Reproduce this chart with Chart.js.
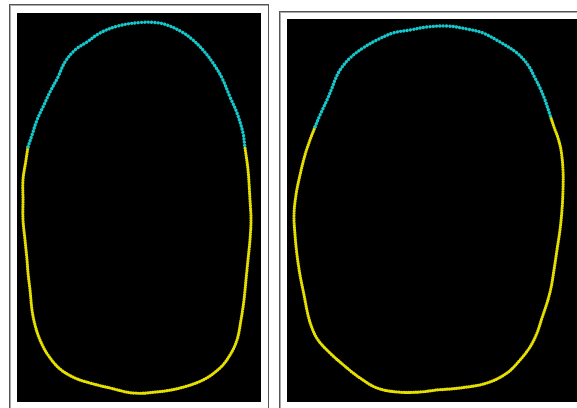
<!DOCTYPE html>
<html>
<head>
<meta charset="utf-8">
<script src="https://cdn.jsdelivr.net/npm/chart.js@4/dist/chart.umd.min.js"></script>
<style>
body { margin: 0; background: #fff; width: 577px; height: 408px; overflow: hidden; position: relative; }
.frame { position: absolute; border: 1px solid #555; border-bottom: none; box-shadow: 1px 1px 0 #aaa inset; }
.plot { position: absolute; background: #000; }
</style>
</head>
<body>
<div class="frame" style="left:9px; top:4px; width:258px; height:420px;"></div>
<div class="frame" style="left:279px; top:11px; width:320px; height:420px;"></div>
<canvas id="left" class="plot" style="left:17px; top:13px;" width="244" height="389"></canvas>
<canvas id="right" class="plot" style="left:287px; top:19px;" width="290" height="383"></canvas>
<script>
// contour readings, left outline
var leftTopX = [28, 32, 37, 43, 50, 58, 65, 75, 87, 100, 118, 140, 155, 167, 182, 193, 203, 213, 222, 230, 237, 243, 245];
var leftTopY = [147, 135, 120, 107, 92, 77, 62, 50, 42, 33, 26, 22.5, 22.5, 25, 32, 40, 50, 63, 78, 97, 113, 133, 148];
var leftBottomX = [28, 26, 23, 23, 23, 25, 27, 28, 30, 32, 35, 40, 48, 60, 75, 90, 110, 133, 157, 180, 203, 220, 230, 237, 241, 244, 246, 248, 250, 251, 250, 248, 245];
var leftBottomY = [147, 160, 180, 200, 220, 240, 260, 273, 290, 310, 325, 340, 355, 369, 378, 383, 388, 393, 392, 388, 380, 368, 355, 340, 320, 300, 280, 260, 240, 220, 200, 170, 148];

// contour readings, right outline
var rightTopX = [315, 320, 327, 332, 335, 340, 350, 363, 377, 393, 410, 427, 447, 467, 483, 500, 517, 528, 535, 540, 545, 551];
var rightTopY = [127, 115, 100, 88, 80, 70, 58, 48, 40, 33, 30, 27, 26, 29, 33, 42, 53, 65, 78, 88, 100, 118];
var rightBottomX = [315, 310, 305, 300, 296, 294, 295, 297, 300, 304, 308, 312, 318, 330, 347, 360, 377, 397, 420, 437, 460, 487, 507, 520, 530, 537, 542, 547, 551, 554, 557, 560, 562, 563, 563, 561, 558, 554, 551];
var rightBottomY = [127, 140, 155, 175, 195, 215, 235, 255, 275, 295, 315, 328, 340, 353, 368, 378, 388, 392, 392, 390, 388, 383, 373, 360, 347, 333, 318, 303, 288, 270, 250, 230, 210, 190, 170, 150, 138, 127, 118];

var CYAN = '#14c8cc';
var YELLOW = '#e6e000';

function toPoints(xs, ys){
    var pts = [];
    for (var i = 0; i < xs.length; i++) {
        pts.push({x: xs[i], y: ys[i]});
    }
    return pts;
}

function dotted(xs, ys, color, width, gap){
    return {
        data: toPoints(xs, ys),
        showLine: true,
        borderColor: color,
        borderWidth: width,
        borderDash: [0.01, gap],
        borderCapStyle: 'round',
        tension: 0.35,
        pointRadius: 0,
        clip: false
    };
}

function initOutline(id, top, bottom, xMin, xMax, yMin, yMax){
    var ctx = document.getElementById(id).getContext('2d');
    return new Chart(ctx, {
        type: 'scatter',
        data: {
            datasets: [top, bottom]
        },
        options: {
            responsive: false,
            animation: false,
            layout: {padding: 0},
            plugins: {legend: {display: false}, tooltip: {enabled: false}},
            scales: {
                x: {type: 'linear', display: false, min: xMin, max: xMax},
                y: {type: 'linear', display: false, min: yMin, max: yMax, reverse: true}
            }
        }
    });
}

initOutline('left',
    dotted(leftTopX, leftTopY, CYAN, 3.4, 3.3),
    dotted(leftBottomX, leftBottomY, YELLOW, 3.2, 2.4),
    17, 261, 13, 402);
initOutline('right',
    dotted(rightTopX, rightTopY, CYAN, 3.4, 3.3),
    dotted(rightBottomX, rightBottomY, YELLOW, 3.2, 2.4),
    287, 577, 19, 402);
</script>
</body>
</html>
